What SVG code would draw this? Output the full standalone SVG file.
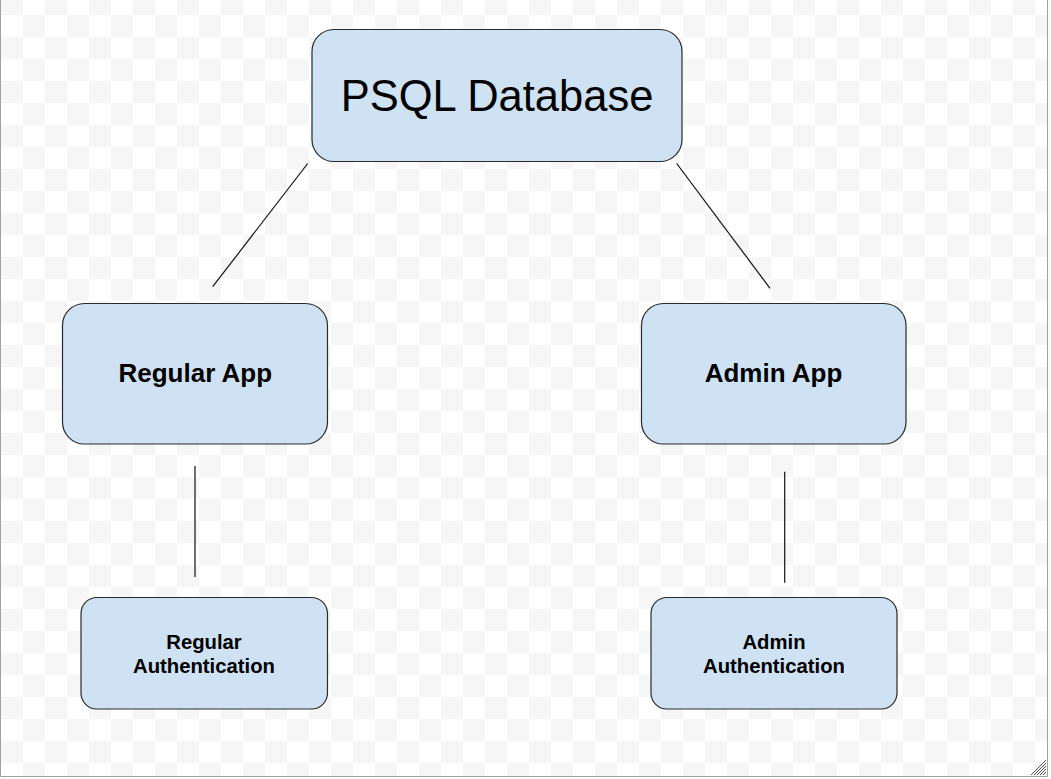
<svg xmlns="http://www.w3.org/2000/svg" width="1051" height="779" viewBox="0 0 1051 779">
<defs>
<pattern id="checker" x="1" y="-7" width="44" height="44" patternUnits="userSpaceOnUse">
<rect x="0" y="0" width="44" height="44" fill="#ffffff"/>
<rect x="0" y="0" width="22" height="22" fill="#f6f6f6"/>
<rect x="22" y="22" width="22" height="22" fill="#f6f6f6"/>
</pattern>
<style>
.box{fill:#cfe2f3;stroke:#2a2a2a;stroke-width:1.2}
.conn{stroke:#111;stroke-width:1.2;fill:none}
.t{font-family:"Liberation Sans",Arial,sans-serif;fill:#000;text-anchor:middle}
.big{font-size:43.5px}
.mid{font-size:26px;font-weight:bold}
.small{font-size:20.3px;font-weight:bold}
.grip{stroke:#555;stroke-width:1}
</style>
</defs>
<rect x="0" y="0" width="1051" height="779" fill="#ffffff"/>
<rect x="0" y="0" width="1047" height="776" fill="url(#checker)"/>
<path d="M0.5 0 V776.5 H1047.5 V0" fill="none" stroke="#a0a0a0" stroke-width="1"/>
<g id="grip">
<line class="grip" x1="1031" y1="775" x2="1046" y2="760"/>
<line class="grip" x1="1034" y1="775" x2="1046" y2="763"/>
<line class="grip" x1="1037" y1="775" x2="1046" y2="766"/>
<line class="grip" x1="1040" y1="775" x2="1046" y2="769"/>
<line class="grip" x1="1043" y1="775" x2="1046" y2="772"/>
</g>
<g id="connectors">
<line class="conn" x1="307.7" y1="163.5" x2="212.7" y2="286.7"/>
<line class="conn" x1="676.7" y1="163.5" x2="770" y2="288.3"/>
<line class="conn" x1="195" y1="466" x2="195" y2="577"/>
<line class="conn" x1="784.7" y1="471.7" x2="784.7" y2="582.7"/>
</g>
<g id="psql">
<rect class="box" x="312" y="29.5" width="370" height="132" rx="22"/>
<text class="t big" x="497" y="111">PSQL Database</text>
</g>
<g id="regular-app">
<rect class="box" x="62.5" y="303.5" width="265" height="140.5" rx="22"/>
<text class="t mid" x="195.3" y="382">Regular App</text>
</g>
<g id="admin-app">
<rect class="box" x="641.5" y="303.5" width="264.5" height="140.5" rx="22"/>
<text class="t mid" x="773.5" y="382">Admin App</text>
</g>
<g id="regular-auth">
<rect class="box" x="81" y="597.5" width="246.5" height="111.5" rx="16"/>
<text class="t small" x="204" y="649">Regular</text>
<text class="t small" x="204" y="672.5">Authentication</text>
</g>
<g id="admin-auth">
<rect class="box" x="651" y="597.5" width="246" height="111.5" rx="16"/>
<text class="t small" x="774" y="648.5">Admin</text>
<text class="t small" x="774" y="672.5">Authentication</text>
</g>
</svg>
